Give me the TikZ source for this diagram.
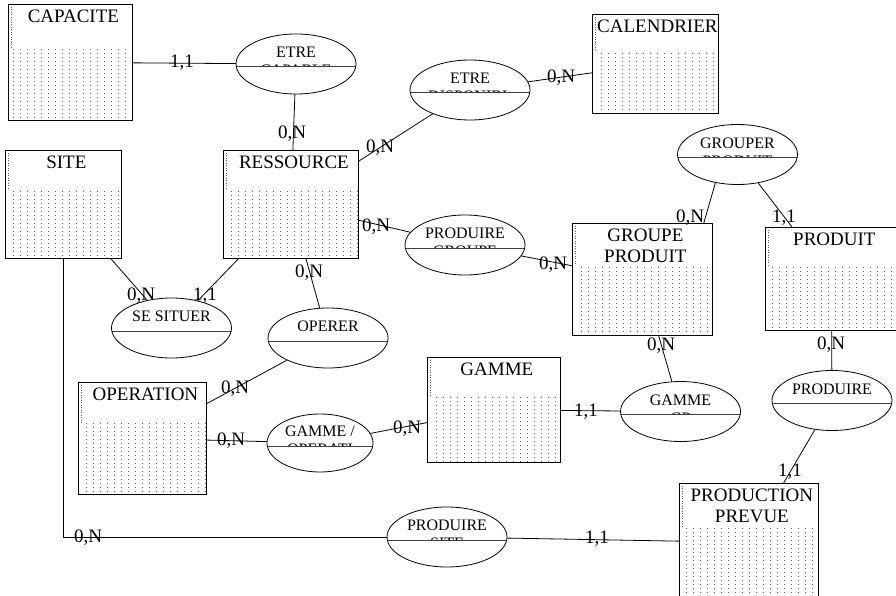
\documentclass[tikz,border=0pt]{standalone}
\usepackage{fontspec}
\setmainfont{Liberation Serif}
\usetikzlibrary{shapes.geometric,patterns.meta,positioning}
\colorlet{dotgray}{black!65}
\colorlet{midline}{black!75}
\def\titlegap{5.6pt}

\tikzdeclarepattern{
  name=entdots,
  type=uncolored,
  bottom left={(0pt,0pt)},
  top right={(6.6pt,4.2pt)},
  tile size={(6.6pt,4.2pt)},
  code={\fill (0pt,0pt) rectangle (1pt,1pt);}
}

\tikzset{
  entity/.style n args={3}{draw, rectangle, anchor=north west, inner sep=0pt, line width=0.8pt,
    minimum width=#1pt, minimum height=#2pt,
    path picture={
      \fill[pattern=entdots, pattern color=dotgray]
        ([xshift=3pt,yshift=-#3pt]path picture bounding box.north west) rectangle (path picture bounding box.south east);
      \draw[dotted, dotgray, line width=0.5pt] ([xshift=3pt]path picture bounding box.north west) -- ++(0,#3);
    }},
  etitle/.style={font=\fontsize{19}{21}\selectfont, align=center, inner sep=0pt, xshift=3pt},
  reltext/.style={font=\fontsize{16}{18}\selectfont, inner sep=0pt},
  rel/.style 2 args={draw, ellipse, minimum width=120pt, minimum height=60pt, inner sep=0pt, line width=0.8pt,
    path picture={
      \node[reltext] at ([yshift=11.5pt]path picture bounding box.center) {#1};
      \begin{scope}
        \clip (path picture bounding box.north west) rectangle ([yshift=-3pt]path picture bounding box.east);
        \node[reltext] at ([yshift=-6.3pt]path picture bounding box.center) {#2};
      \end{scope}
      \draw[midline, line width=1pt] ([yshift=-3pt]path picture bounding box.west) -- ([yshift=-3pt]path picture bounding box.east);
    }},
  card/.style={font=\fontsize{19}{21}\selectfont, inner sep=0pt, anchor=base},
  link/.style={draw, line width=0.8pt},
}

\begin{document}
\begin{tikzpicture}[x=1pt,y=-1pt]
\useasboundingbox (0,0) rectangle (896,596);

% entities
\node[entity={124}{116}{43}] (capacite) at (8,4) {};
\node[entity={126}{99}{36}] (calendrier) at (592,14) {};
\node[entity={116}{108}{40}] (site) at (5,150) {};
\node[entity={135}{108}{40}] (ressource) at (223,150) {};
\node[entity={140}{112}{42}] (grpprod) at (572,223) {};
\node[entity={132}{103}{38}] (produit) at (765,227) {};
\node[entity={128}{112}{41}] (operation) at (78,382) {};
\node[entity={133}{105}{40}] (gamme) at (427,357) {};
\node[entity={139}{118}{44}] (prodprev) at (679,483) {};

\node[etitle, below=\titlegap of capacite.north] (capacite-t) {CAPACITE};
\node[etitle, below=\titlegap of calendrier.north, xshift=-1pt] (calendrier-t) {CALENDRIER};
\node[etitle, below=\titlegap of site.north] (site-t) {SITE};
\node[etitle, below=\titlegap of ressource.north] (ressource-t) {RESSOURCE};
\node[etitle, below=\titlegap of grpprod.north] (grpprod-t) {GROUPE\\PRODUIT};
\node[etitle, below=\titlegap of produit.north] (produit-t) {PRODUIT};
\node[etitle, below=\titlegap of operation.north] (operation-t) {OPERATION};
\node[etitle, below=\titlegap of gamme.north] (gamme-t) {GAMME};
\node[etitle, below=\titlegap of prodprev.north] (prodprev-t) {PRODUCTION\\PREVUE};

% relations
\node[rel={ETRE}{CAPABLE}] (etrecap) at (296,64) {};
\node[rel={ETRE}{DISPONIBL}] (etredisp) at (470,90) {};
\node[rel={PRODUIRE}{GROUPE}] (prodgroupe) at (465,245) {};
\node[rel={GROUPER}{PRODUIT}] (grouper) at (737.5,154.5) {};
\node[rel={SE SITUER}{}] (sesituer) at (171.5,328) {};
\node[rel={OPERER}{}] (operer) at (328,338) {};
\node[rel={GAMME /}{OPERATI}, minimum width=106pt, minimum height=58pt] (gamop) at (320,443) {};
\node[rel={GAMME}{GP}] (gammegp) at (680.5,411.5) {};
\node[rel={PRODUIRE}{}] (produire) at (832,400.5) {};
\node[rel={PRODUIRE}{SITE}] (prodsite) at (447,537) {};

% links
\draw[link] (capacite) -- (etrecap);
\draw[link] (etrecap) -- (ressource);
\draw[link] (ressource) -- (etredisp);
\draw[link] (etredisp) -- (calendrier);
\draw[link] (ressource) -- (prodgroupe);
\draw[link] (prodgroupe) -- (grpprod);
\draw[link] (grouper.232) -- ([xshift=-9pt]grpprod.north east);
\draw[link] (grouper.306) -- ([xshift=27pt]produit.north west);
\draw[link] (site) -- (sesituer);
\draw[link] (ressource) -- (sesituer);
\draw[link] (ressource) -- (operer);
\draw[link] (operer) -- (operation);
\draw[link] (operation) -- (gamop);
\draw[link] (gamop) -- (gamme);
\draw[link] (gamme) -- (gammegp);
\draw[link] (gammegp) -- (grpprod);
\draw[link] (produit) -- (produire);
\draw[link] (produire) -- (prodprev);
\draw[link] (site) |- (prodsite);
\draw[link] (prodsite) -- (prodprev);

% cardinalities
\node[card] (c-capa) at (182,68) {1,1};
\node[card] (c-rescap) at (292,139) {0,N};
\node[card] (c-resdisp) at (380,153) {0,N};
\node[card] (c-cal) at (561,83) {0,N};
\node[card] (c-resgrp) at (376,231) {0,N};
\node[card] (c-grpprodgrp) at (553,269) {0,N};
\node[card] (c-grouper1) at (690,222) {0,N};
\node[card] (c-grouper2) at (784,222) {1,1};
\node[card] (c-site) at (141,300) {0,N};
\node[card] (c-ressit) at (205,300) {1,1};
\node[card] (c-resop) at (309,277) {0,N};
\node[card] (c-grpgam) at (661,350) {0,N};
\node[card] (c-prodprd) at (831,349) {0,N};
\node[card] (c-opop) at (235,393) {0,N};
\node[card] (c-opgam) at (231,445) {0,N};
\node[card] (c-gamop) at (407,433) {0,N};
\node[card] (c-gamgp) at (586,416) {1,1};
\node[card] (c-prevprd) at (790,476) {1,1};
\node[card] (c-prevsite) at (597,543) {1,1};
\node[card] (c-siteprev) at (88,542) {0,N};
\end{tikzpicture}
\end{document}
